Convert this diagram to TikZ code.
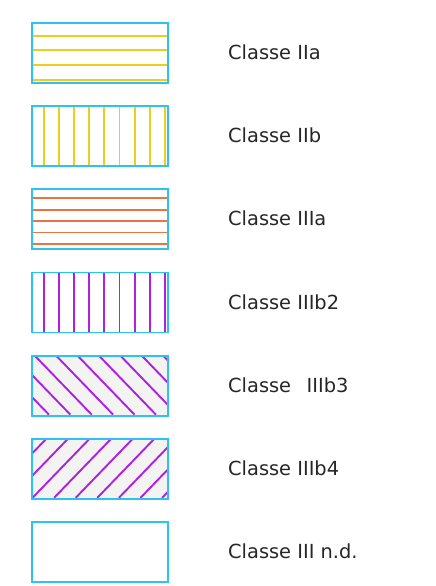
\documentclass[tikz,border=0pt]{standalone}
\usepackage{fontspec}
\setmainfont{DejaVu Sans}
\usetikzlibrary{positioning}
\definecolor{framecyan}{HTML}{2CC3F0}
\definecolor{hatchyellow}{HTML}{F0CC1E}
\definecolor{hatchorange}{HTML}{EA7440}
\definecolor{hatchpurple}{HTML}{B020E0}
\definecolor{hatchbg}{HTML}{F3F3F1}
\begin{document}
\begin{tikzpicture}[
  x=1pt, y=-1pt,
  font=\fontsize{19.4}{22}\selectfont,
  swatch/.style={draw=framecyan,line width=1.8pt,fill=white,
    minimum width=136pt,minimum height=60pt,inner sep=0pt,outer sep=0pt},
  lbl/.style={inner sep=0pt,text height=13pt,text depth=0pt,
    text=black!85,anchor=west},
  hatch/.style={line width=1.9pt},
  horiz/.style 2 args={path picture={
    \foreach \d in {#2}
      \draw[hatch,#1] ([yshift=-\d pt]path picture bounding box.north west) -- ++(200,0);}},
  vert/.style 2 args={path picture={
    \foreach \d in {#2}
      \draw[hatch,#1] ([xshift=\d pt]path picture bounding box.north west) -- ++(0,80);}},
  desc/.style 2 args={fill=hatchbg,path picture={
    \foreach \d in {#2}
      \draw[hatch,#1] ([xshift=\d pt]path picture bounding box.north west) -- ++(57,59);}},
  asc/.style 2 args={fill=hatchbg,path picture={
    \foreach \d in {#2}
      \draw[hatch,#1] ([xshift=\d pt]path picture bounding box.north west) -- ++(-57,59);}}]
\useasboundingbox (0,0) rectangle (436,586);
% swatches
\node[swatch,horiz={hatchyellow}{12.7,27.4,42.1,56.8}] (c1) at (100,53) {};
\node[swatch,vert={hatchyellow}{12,27.1,...,134}] (c2) at (100,136.2) {};
\node[swatch,horiz={hatchorange}{9,20.4,31.8,43.2,54.6}] (c3) at (100,219.3) {};
\node[swatch,vert={hatchpurple}{12,27.1,...,134}] (c4) at (100,302.5) {};
\node[swatch,desc={hatchpurple}{-40.1,-18.7,...,136}] (c5) at (100,385.6) {};
\node[swatch,asc={hatchpurple}{14.3,35.9,...,192}] (c6) at (100,468.8) {};
\node[swatch] (c7) at (100,551.9) {};
% labels
\node[lbl,right=60pt of c1] (t1) {Classe IIa};
\node[lbl,right=60pt of c2] (t2) {Classe IIb};
\node[lbl,right=60pt of c3] (t3) {Classe IIIa};
\node[lbl,right=60pt of c4] (t4) {Classe IIIb2};
\node[lbl,right=60pt of c5] (t5) {Classe\ \ \,IIIb3};
\node[lbl,right=60pt of c6] (t6) {Classe IIIb4};
\node[lbl,right=60pt of c7] (t7) {Classe III n.d.};
\end{tikzpicture}
\end{document}
